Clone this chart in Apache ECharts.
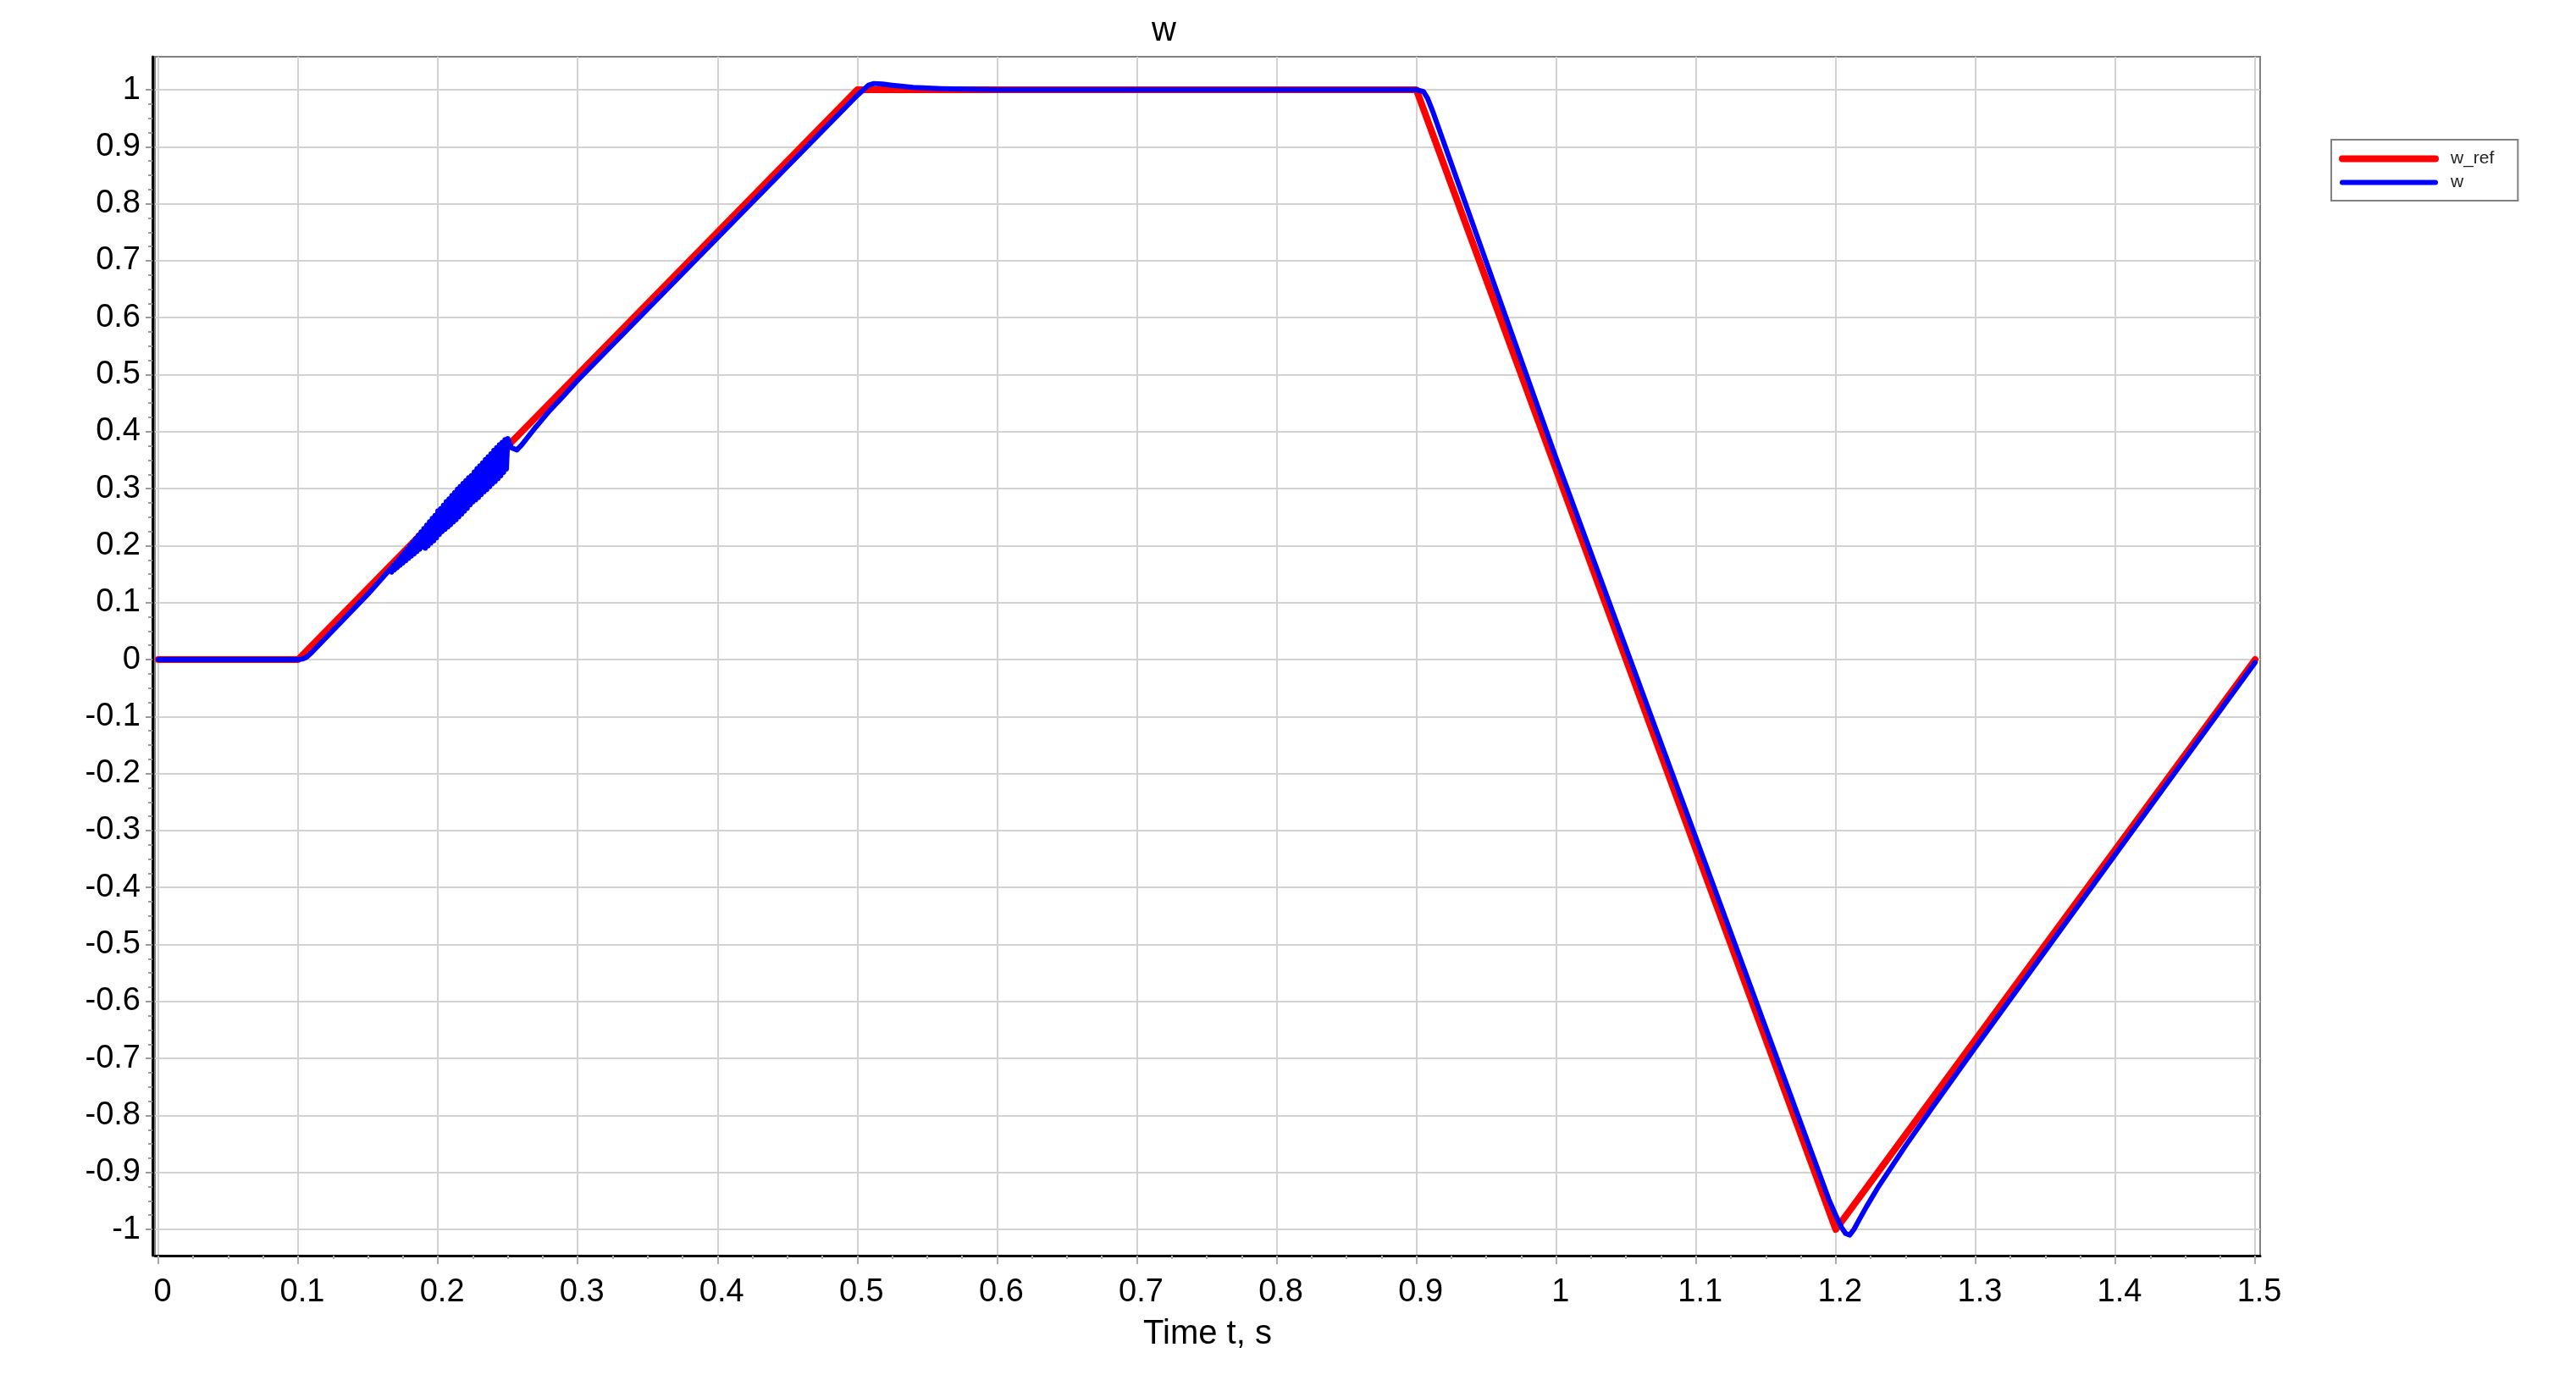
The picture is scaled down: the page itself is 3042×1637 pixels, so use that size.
<!DOCTYPE html>
<html>
<head>
<meta charset="utf-8">
<script src="https://cdn.jsdelivr.net/npm/echarts@6/dist/echarts.min.js"></script>
<style>
html,body{margin:0;padding:0;background:#fff;}
#c{width:3042px;height:1637px;}
</style>
</head>
<body>
<div id="c"></div>
<script>
// ---- data ----
const xTicks = [0, 0.1, 0.2, 0.3, 0.4, 0.5, 0.6, 0.7, 0.8, 0.9, 1, 1.1, 1.2, 1.3, 1.4, 1.5];
const yTicks = [-1, -0.9, -0.8, -0.7, -0.6, -0.5, -0.4, -0.3, -0.2, -0.1, 0, 0.1, 0.2, 0.3, 0.4, 0.5, 0.6, 0.7, 0.8, 0.9, 1];

const wRefTime  = [0, 0.1, 0.5, 0.9, 1.2, 1.5];
const wRefValue = [0, 0,   1,   1,  -1,   0];

const wTime = [
  0, 0.1, 0.103, 0.106, 0.11, 0.13, 0.15,
  0.166, 0.167, 0.168, 0.169, 0.170, 0.171, 0.172, 0.173, 0.174, 0.175,
  0.176, 0.177, 0.178, 0.179, 0.180, 0.181, 0.182, 0.183, 0.184, 0.185,
  0.186, 0.187, 0.188, 0.189, 0.190, 0.191, 0.192, 0.193, 0.194, 0.195,
  0.196, 0.197, 0.198, 0.199, 0.200, 0.201, 0.202, 0.203, 0.204, 0.205,
  0.206, 0.207, 0.208, 0.209, 0.210, 0.211, 0.212, 0.213, 0.214, 0.215,
  0.216, 0.217, 0.218, 0.219, 0.220, 0.221, 0.222, 0.223, 0.224, 0.225,
  0.226, 0.227, 0.228, 0.229, 0.230, 0.231, 0.232, 0.233, 0.234, 0.235,
  0.236, 0.237, 0.238, 0.239, 0.240, 0.241, 0.242, 0.243, 0.244, 0.245,
  0.246, 0.247, 0.248, 0.249, 0.250,
  0.2525, 0.2565, 0.26, 0.27, 0.28, 0.29, 0.3, 0.4, 0.5,
  0.504, 0.508, 0.512, 0.518, 0.525, 0.54, 0.56, 0.6, 0.7, 0.8, 0.9,
  0.905, 0.908, 0.912, 1.0, 1.1, 1.195, 1.2, 1.204, 1.207, 1.21, 1.213, 1.217,
  1.222, 1.23, 1.25, 1.27, 1.3, 1.4, 1.5
];
const wValue = [
  0, 0, 0.001, 0.004, 0.013, 0.064, 0.115,
  0.159, 0.1535, 0.165, 0.1575, 0.170, 0.1615, 0.176, 0.1655, 0.182, 0.1695,
  0.188, 0.1735, 0.194, 0.1775, 0.200, 0.1815, 0.206, 0.1855, 0.212, 0.1895,
  0.218, 0.1935, 0.224, 0.1975, 0.230, 0.1955, 0.236, 0.1995, 0.242, 0.2045,
  0.248, 0.2085, 0.253, 0.2135, 0.261, 0.2195, 0.265, 0.2245, 0.271, 0.2285,
  0.277, 0.2325, 0.282, 0.2365, 0.288, 0.2415, 0.293, 0.2455, 0.299, 0.2505,
  0.304, 0.2555, 0.309, 0.2605, 0.314, 0.2655, 0.319, 0.2715, 0.323, 0.2765,
  0.329, 0.2805, 0.335, 0.2845, 0.340, 0.2895, 0.345, 0.2945, 0.351, 0.2985,
  0.356, 0.3035, 0.361, 0.3085, 0.367, 0.3125, 0.372, 0.3175, 0.377, 0.3225,
  0.381, 0.3285, 0.386, 0.3345, 0.388,
  0.372, 0.368, 0.377, 0.408, 0.437, 0.463, 0.49, 0.74, 0.99,
  0.999, 1.008, 1.011, 1.010, 1.008, 1.004, 1.002, 1.0, 1.0, 1.0, 1.0,
  0.997, 0.985, 0.96, 0.353, -0.313, -0.947, -0.975, -0.996, -1.007, -1.010, -1.0, -0.982,
  -0.96, -0.927, -0.853, -0.783, -0.68, -0.342, -0.005
];

// ---- build ----
const FONT = 'Liberation Sans, Arial, sans-serif';
const X_MIN = -0.0024, X_MAX = 1.5036;
const Y_MIN = -1.046, Y_MAX = 1.058;

function minorBetween(ticks, step) {
  const out = [];
  for (let i = 0; i < ticks.length - 1; i++) {
    for (let k = 1; k < 4; k++) out.push(+(ticks[i] + k * step).toFixed(4));
  }
  return out;
}
const xMinor = minorBetween(xTicks, 0.025);
const yMinor = minorBetween(yTicks, 0.025);
const fmt = v => String(+(+v).toFixed(3));

const refData = wRefTime.map((t, i) => [t, wRefValue[i]]);
const wData = wTime.map((t, i) => [t, wValue[i]]);

const chart = echarts.init(document.getElementById('c'), null, {renderer: 'canvas'});
chart.setOption({
  animation: false,
  backgroundColor: '#ffffff',
  title: {
    text: 'w',
    left: 1355,
    top: 12,
    textStyle: {fontFamily: FONT, fontSize: 40, fontWeight: 'normal', color: '#000'}
  },
  legend: {
    left: 2753,
    top: 165,
    orient: 'vertical',
    itemWidth: 110,
    itemHeight: 14,
    itemGap: 7,
    padding: [12, 28, 11, 9],
    borderColor: '#808080',
    borderWidth: 2,
    itemStyle: {opacity: 0},
    lineStyle: {width: 'inherit'},
    textStyle: {fontFamily: FONT, fontSize: 21, lineHeight: 14, color: '#222', padding: [0, 0, 0, 13]},
    data: ['w_ref', 'w']
  },
  grid: {
    left: 183, right: 373, top: 67, bottom: 154,
    show: true,
    borderColor: '#808080',
    borderWidth: 2,
    backgroundColor: '#fff'
  },
  xAxis: [
    {
      type: 'value', min: X_MIN, max: X_MAX, position: 'bottom',
      name: 'Time t, s', nameLocation: 'middle', nameGap: 73,
      nameTextStyle: {fontFamily: FONT, fontSize: 40, color: '#000'},
      axisLine: {show: true, onZero: false, lineStyle: {color: '#000', width: 3}},
      axisTick: {show: true, customValues: xTicks, length: 10, lineStyle: {color: '#aaa', width: 2}},
      axisLabel: {customValues: xTicks, formatter: fmt, margin: 25, padding: [0, 0, 0, 10], fontFamily: FONT, fontSize: 38, color: '#000'},
      splitLine: {show: true, lineStyle: {color: '#d2d2d2', width: 2}}
    },
    {
      type: 'value', min: X_MIN, max: X_MAX, position: 'bottom',
      axisLine: {show: false, onZero: false},
      axisTick: {show: true, customValues: xMinor, length: 4, lineStyle: {color: '#aaa', width: 2}},
      axisLabel: {show: false},
      splitLine: {show: false}
    }
  ],
  yAxis: [
    {
      type: 'value', min: Y_MIN, max: Y_MAX, position: 'left', offset: 3,
      axisLine: {show: true, onZero: false, lineStyle: {color: '#000', width: 3}},
      axisTick: {show: true, customValues: yTicks, length: 8, lineStyle: {color: '#999', width: 2}},
      axisLabel: {customValues: yTicks, formatter: fmt, margin: 14, fontFamily: FONT, fontSize: 38, color: '#000'},
      splitLine: {show: true, lineStyle: {color: '#d2d2d2', width: 2}}
    },
    {
      type: 'value', min: Y_MIN, max: Y_MAX, position: 'left', offset: 3,
      axisLine: {show: false, onZero: false},
      axisTick: {show: true, customValues: yMinor, length: 5, lineStyle: {color: '#999', width: 2}},
      axisLabel: {show: false},
      splitLine: {show: false}
    }
  ],
  series: [
    {
      name: 'w_ref', type: 'line', xAxisIndex: 0, yAxisIndex: 0,
      data: refData, symbol: 'none', smooth: false,
      lineStyle: {color: '#ff0000', width: 8, cap: 'round', join: 'round'},
      itemStyle: {color: '#ff0000'}
    },
    {
      name: 'w', type: 'line', xAxisIndex: 0, yAxisIndex: 0,
      data: wData, symbol: 'none', smooth: false,
      lineStyle: {color: '#0000ff', width: 6, cap: 'round', join: 'round'},
      itemStyle: {color: '#0000ff'}
    }
  ]
});
</script>
</body>
</html>
